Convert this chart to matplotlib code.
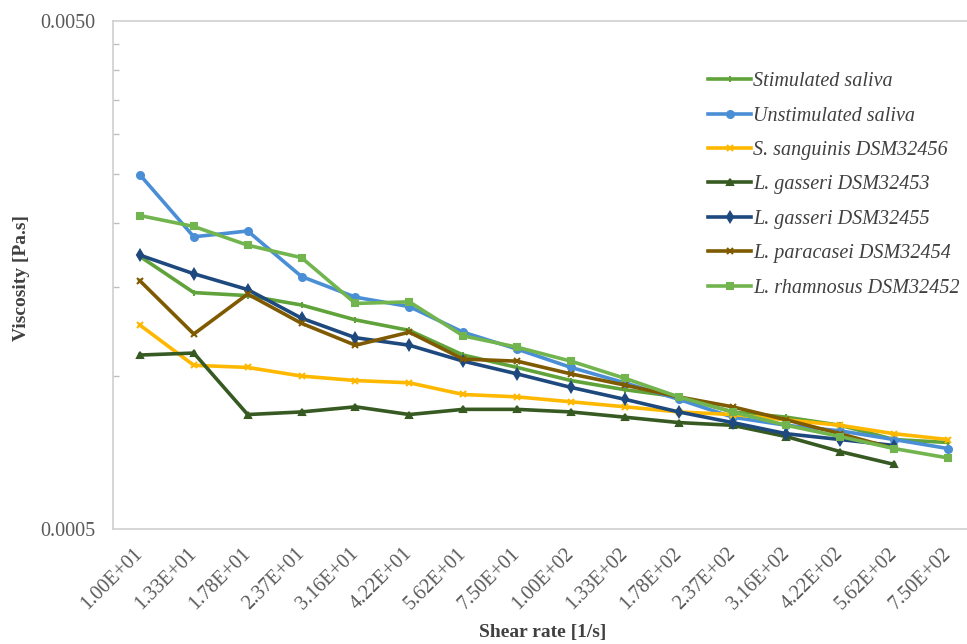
import matplotlib
matplotlib.use("Agg")
import matplotlib.pyplot as plt
import numpy as np

# ---- data ----
shear_labels = ["1.00E+01", "1.33E+01", "1.78E+01", "2.37E+01", "3.16E+01", "4.22E+01",
                "5.62E+01", "7.50E+01", "1.00E+02", "1.33E+02", "1.78E+02", "2.37E+02",
                "3.16E+02", "4.22E+02", "5.62E+02", "7.50E+02"]

stimulated = [0.00172, 0.00146, 0.00144, 0.00138, 0.00129, 0.00123, 0.00110, 0.00104,
              0.00098, 0.00094, 0.00091, 0.00085, 0.00083, 0.00080, 0.00075, 0.00074]
unstimulated = [0.00249, 0.00188, 0.00193, 0.00157, 0.00143, 0.00137, 0.00122, 0.00113,
                0.00104, 0.00097, 0.00090, 0.00083, 0.00080, 0.00078, 0.00075, 0.00072]
sanguinis = [0.00126, 0.00105, 0.00104, 0.00100, 0.00098, 0.00097, 0.00092, 0.00091,
             0.00089, 0.00087, 0.00085, 0.00084, 0.00082, 0.00080, 0.00077, 0.00075]
gasseri_53 = [0.00110, 0.00111, 0.00084, 0.00085, 0.00087, 0.00084, 0.00086, 0.00086,
              0.00085, 0.00083, 0.00081, 0.00080, 0.00076, 0.00071, 0.00067]
gasseri_55 = [0.00173, 0.00159, 0.00148, 0.00130, 0.00119, 0.00115, 0.00107, 0.00101,
              0.00095, 0.00090, 0.00085, 0.00081, 0.00077, 0.00075, 0.00073]
paracasei = [0.00154, 0.00121, 0.00145, 0.00127, 0.00115, 0.00122, 0.00108, 0.00107,
             0.00101, 0.00096, 0.00091, 0.00087, 0.00082, 0.00077, 0.00072]
rhamnosus = [0.00207, 0.00197, 0.00181, 0.00171, 0.00139, 0.00140, 0.00120, 0.00114,
             0.00107, 0.00099, 0.00091, 0.00085, 0.00080, 0.00076, 0.00072, 0.00069]

series_names = ["Stimulated saliva", "Unstimulated saliva", "S. sanguinis DSM32456",
                "L. gasseri DSM32453", "L. gasseri DSM32455", "L. paracasei DSM32454",
                "L. rhamnosus DSM32452"]
series_values = [stimulated, unstimulated, sanguinis, gasseri_53, gasseri_55, paracasei, rhamnosus]
colors = ["#5FA33A", "#4A8ED6", "#FFB800", "#375A22", "#1E497E", "#7F5A00", "#72B54E"]
markers = ["|", "o", "x", "^", "d", "x", "s"]

plt.rcParams['font.family'] = ['Liberation Serif', 'DejaVu Serif']

W, H = 967, 644
fig = plt.figure(figsize=(W / 100, H / 100), dpi=100)
left, right, top, bottom = 113, 975, 21, 529
ax = fig.add_axes([left / W, 1 - bottom / H, (right - left) / W, (bottom - top) / H])

x = np.arange(len(shear_labels))
for name, vals, c, m in zip(series_names, series_values, colors, markers):
    ax.plot(x[:len(vals)], vals, color=c, lw=2.6, marker=m, markersize=5,
            markeredgewidth=1.5, label=name, solid_joinstyle='round')

ax.set_yscale('log')
ax.set_ylim(0.0005, 0.005)
ax.set_xlim(-0.5, len(shear_labels) - 0.5)

ax.set_yticks([0.0005, 0.005])
ax.set_yticklabels(["0.0005", "0.0050"])
ax.set_yticks([0.001, 0.0015, 0.002, 0.0025, 0.003, 0.0035, 0.004, 0.0045], minor=True)
ax.yaxis.set_minor_formatter(matplotlib.ticker.NullFormatter())
ax.tick_params(axis='y', which='major', length=0, pad=13, labelsize=14.5, labelcolor='#595959')
ax.tick_params(axis='y', which='minor', direction='in', length=4, width=1, color='#BFBFBF')

ax.set_xticks(x)
ax.set_xticklabels(shear_labels, rotation=45, ha='right', va='center', rotation_mode='anchor')
ax.tick_params(axis='x', length=0, pad=16, labelsize=14.5, labelcolor='#595959')

for s in ['left', 'top', 'bottom']:
    ax.spines[s].set_color('#D0D0D0')
    ax.spines[s].set_linewidth(1.2)
ax.spines['right'].set_visible(False)

fig.text(22 / W, 1 - 278 / H, "Viscosity [Pa.s]", rotation=90, ha='center', va='center',
         fontsize=14, fontweight='bold', color='#404040')
fig.text(543 / W, 1 - 633 / H, "Shear rate [1/s]", ha='center', va='center',
         fontsize=14, fontweight='bold', color='#404040')

leg = ax.legend(loc='upper left', bbox_to_anchor=((700 - left) / (right - left), (bottom - 64) / (bottom - top)),
                frameon=False, prop={'style': 'italic', 'size': 14.5}, handlelength=2.15,
                handletextpad=0.1, labelspacing=0.76, borderaxespad=0)
for t in leg.get_texts():
    t.set_color('#404040')

fig.savefig("out.png", dpi=100)
